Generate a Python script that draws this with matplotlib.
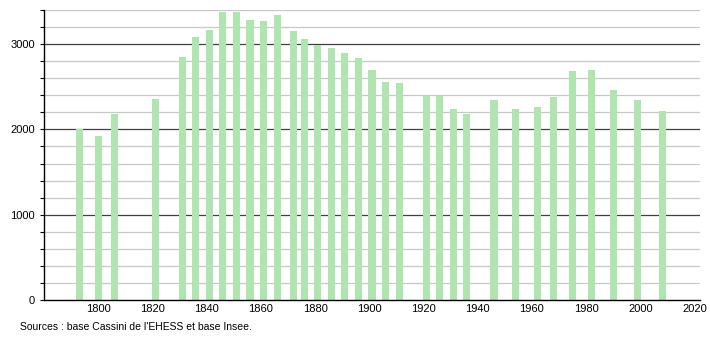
import matplotlib
matplotlib.use('Agg')
import matplotlib.pyplot as plt
from matplotlib.ticker import MultipleLocator

plt.rcParams['font.family'] = ['Liberation Sans', 'DejaVu Sans']

# census years and population
years = [1793, 1800, 1806, 1821, 1831, 1836, 1841, 1846, 1851, 1856, 1861, 1866,
         1872, 1876, 1881, 1886, 1891, 1896, 1901, 1906, 1911, 1921, 1926, 1931,
         1936, 1946, 1954, 1962, 1968, 1975, 1982, 1990, 1999, 2008]
population = [2010, 1922, 2176, 2353, 2847, 3082, 3165, 3376, 3376, 3282, 3270, 3341,
              3153, 3059, 2992, 2953, 2894, 2835, 2694, 2553, 2541, 2392, 2392, 2235,
              2176, 2341, 2235, 2259, 2376, 2682, 2694, 2459, 2341, 2212]
x_labels = [1800, 1820, 1840, 1860, 1880, 1900, 1920, 1940, 1960, 1980, 2000, 2020]
y_labels = [0, 1000, 2000, 3000]

fig = plt.figure(figsize=(7.1, 3.4), dpi=100)
ax = fig.add_axes([44/710, 40/340, 656/710, 290/340])

# grid lines: light every 200, dark every 1000
for v in range(200, 3401, 200):
    if v % 1000 == 0:
        ax.axhline(v, color='#404040', lw=0.9, zorder=1)
    else:
        ax.axhline(v, color='#c8c8c8', lw=0.9, zorder=1)

ax.bar(years, population, width=2.6, color='#b0e4b0', zorder=2)

ax.set_xlim(1780, 2022)
ax.set_ylim(0, 3400)
ax.set_xticks(x_labels)
ax.set_yticks(y_labels)
ax.yaxis.set_minor_locator(MultipleLocator(200))
ax.tick_params(axis='x', length=0, labelsize=8, pad=3)
ax.tick_params(axis='y', which='both', length=3, labelsize=8, direction='out', width=0.8)

for s in ['top', 'right']:
    ax.spines[s].set_visible(False)
ax.spines['left'].set_linewidth(1.0)
ax.spines['bottom'].set_linewidth(1.0)

fig.text(20/710, 1 - 327/340, "Sources : base Cassini de l'EHESS et base Insee.",
         fontsize=7.5, va='center', ha='left')

fig.savefig('out.png', dpi=100)
